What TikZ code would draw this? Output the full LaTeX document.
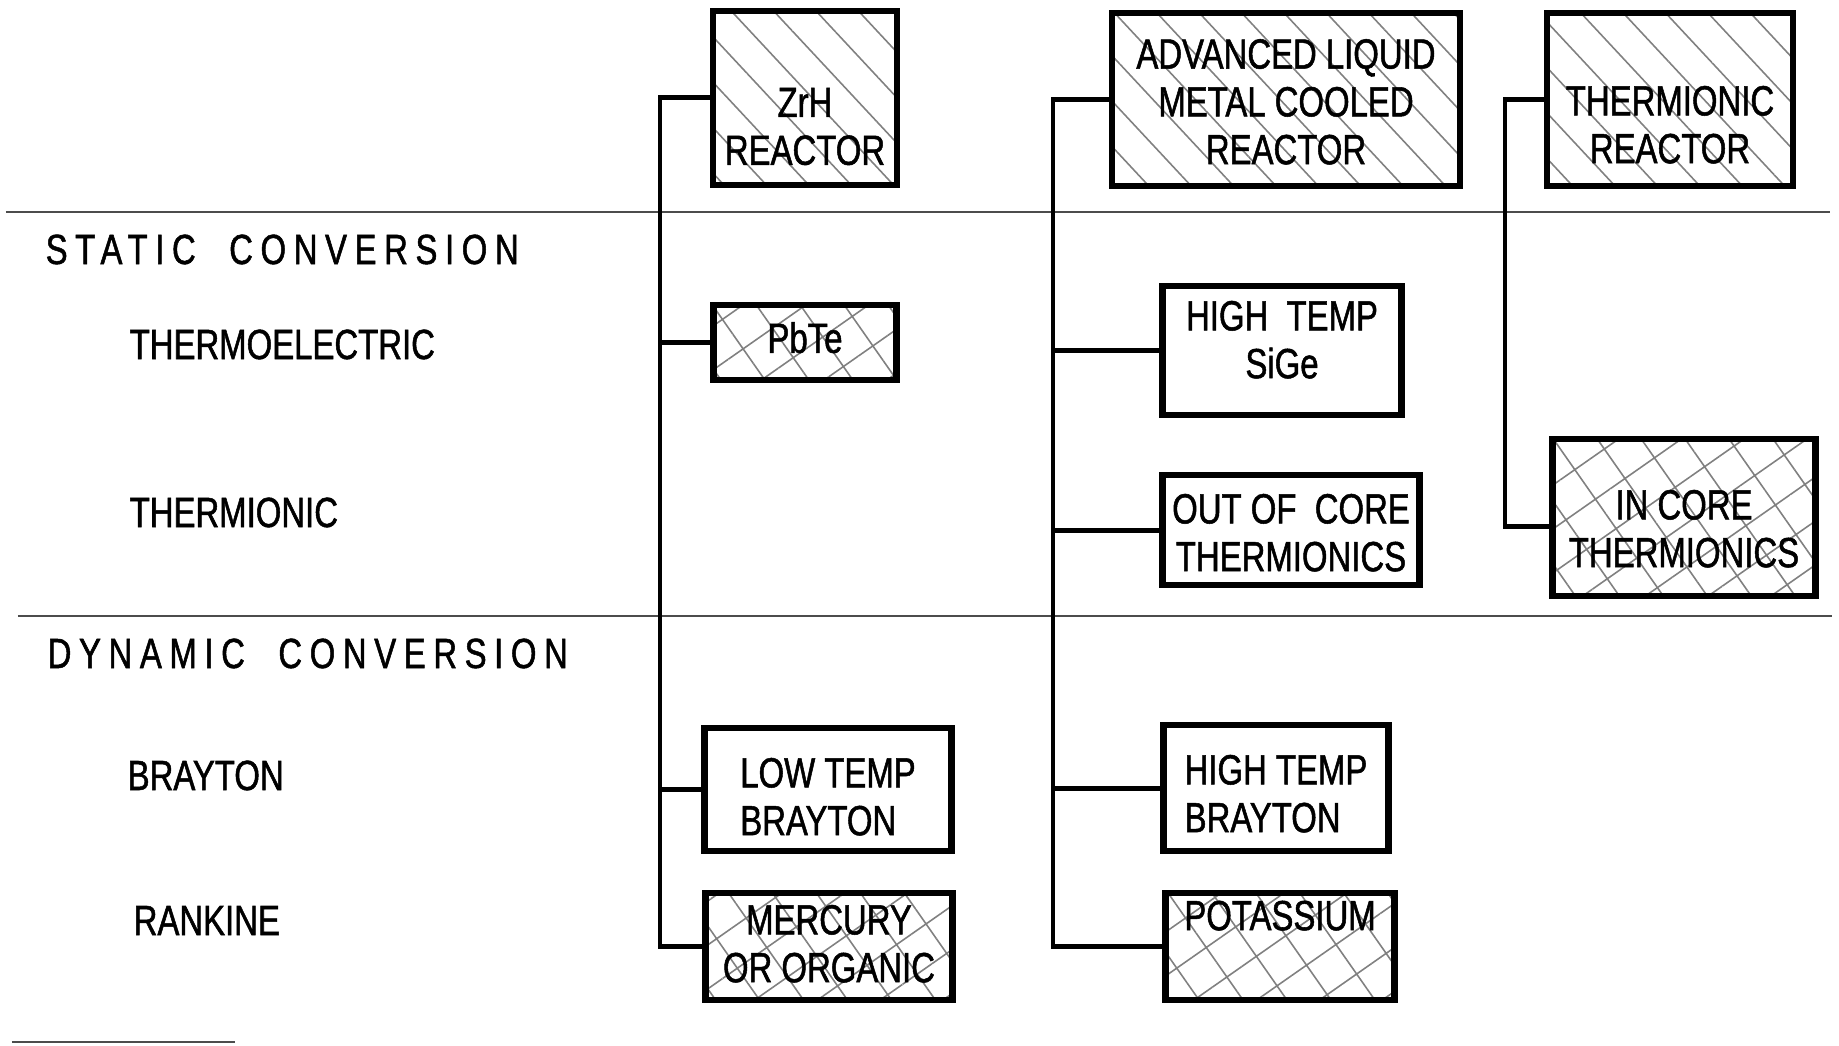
\documentclass[tikz,border=0pt]{standalone}
\usepackage{fontspec}
\setmainfont{Liberation Sans}[FakeStretch=0.78, FakeBold=1.2]
\usetikzlibrary{patterns.meta}

\begin{document}
\begin{tikzpicture}[every node/.style={font=\fontsize{12}{13.6}\selectfont},
	bx/.style={draw, line width=1.8pt, inner sep=0pt, align=center, anchor=north},
	hl/.style={pattern={Lines[angle=-47, distance=3.1mm, line width=0.45pt]}, pattern color=black!50},
	hx/.style={pattern={Hatch[angle=35, distance=3.6mm, line width=0.45pt]}, pattern color=black!50},
	trunk/.style={line width=1.4pt},
	sep/.style={line width=0.6pt, black!70},
	head/.style={anchor=base west, inner sep=0pt, font=\fontsize{12}{13.6}\selectfont\addfontfeature{LetterSpace=18}},
	lbl/.style={anchor=base west, inner sep=0pt}]
	\useasboundingbox (0,0) rectangle (18.39,-10.45);
	% row dividers
	\draw[sep] (0.06,-2.12) -- (18.30,-2.12);
	\draw[sep] (0.18,-6.16) -- (18.32,-6.16);
	\draw[sep] (0.12,-10.42) -- (2.35,-10.42);
	% left labels
	\node[head] (static) at (0.45,-2.64) {STATIC~~CONVERSION};
	\node[lbl] (thel) at (1.29,-3.59) {THERMOELECTRIC};
	\node[lbl] (thion) at (1.29,-5.27) {THERMIONIC};
	\node[head] (dynamic) at (0.47,-6.68) {DYNAMIC~~CONVERSION};
	\node[lbl] (bray) at (1.27,-7.90) {BRAYTON};
	\node[lbl] (rank) at (1.33,-9.35) {RANKINE};
	% first column
	\node[bx, hl, minimum width=1.84cm, text height=1.54cm, text depth=0.20cm] (zrh) at (8.05,-0.10) {ZrH\\REACTOR};
	\node[bx, hx, minimum width=1.83cm, text height=0.48cm, text depth=0.27cm] (pbte) at (8.05,-3.04) {PbTe};
	\node[bx, align=left, minimum width=2.47cm, text height=1.07cm, text depth=0.16cm] (ltb) at (8.28,-7.25) {LOW TEMP\\BRAYTON};
	\node[bx, hx, minimum width=2.47cm, text height=0.89cm, text depth=0.18cm] (merc) at (8.29,-8.90) {MERCURY\\OR ORGANIC};
	% second column
	\node[bx, hl, minimum width=3.48cm, text height=1.51cm, text depth=0.22cm] (alm) at (12.86,-0.10) {ADVANCED LIQUID\\METAL COOLED\\REACTOR};
	\node[bx, minimum width=2.39cm, text height=0.92cm, text depth=0.37cm] (sige) at (12.82,-2.83) {HIGH~~TEMP\\SiGe};
	\node[bx, minimum width=2.57cm, text height=0.96cm, text depth=0.14cm] (ooc) at (12.91,-4.72) {OUT OF~~CORE\\THERMIONICS};
	\node[bx, align=left, minimum width=2.25cm, text height=1.07cm, text depth=0.19cm] (htb) at (12.76,-7.22) {HIGH TEMP\\BRAYTON};
	\node[bx, hx, minimum width=2.29cm, text height=0.37cm, text depth=0.70cm] (pot) at (12.80,-8.90) {POTASSIUM};
	% third column
	\node[bx, hl, minimum width=2.46cm, text height=1.50cm, text depth=0.23cm] (trr) at (16.70,-0.10) {THERMIONIC\\REACTOR};
	\node[bx, hx, minimum width=2.63cm, text height=1.28cm, text depth=0.29cm] (icth) at (16.84,-4.36) {IN CORE\\THERMIONICS};
	% trunks
	\coordinate (ta) at (6.60,-5);
	\coordinate (tb) at (10.53,-5);
	\coordinate (tc) at (15.05,-5);
	\draw[trunk] (zrh.west) -- (zrh.west -| ta) -- (merc.west -| ta) -- (merc.west);
	\foreach \n in {pbte, ltb} {\draw[trunk] (\n.west) -- (\n.west -| ta);}
	\draw[trunk] (alm.west) -- (alm.west -| tb) -- (pot.west -| tb) -- (pot.west);
	\foreach \n in {sige, ooc, htb} {\draw[trunk] (\n.west) -- (\n.west -| tb);}
	\draw[trunk] (trr.west) -- (trr.west -| tc) -- ([yshift=-0.09cm]icth.west -| tc) -- ([yshift=-0.09cm]icth.west);
\end{tikzpicture}
\end{document}
